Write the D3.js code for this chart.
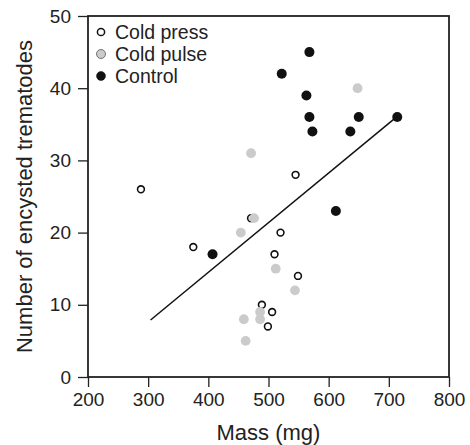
<!DOCTYPE html>
<html>
<head>
<meta charset="utf-8">
<script src="https://cdn.jsdelivr.net/npm/d3@7"></script>
<style>
  body { margin: 0; background: #fff; }
  svg text { font-family: "Liberation Sans", Arial, Helvetica, sans-serif; fill: #222; }
</style>
</head>
<body>
<script>
// Data: mass (mg) vs number of encysted trematodes
const pressMass  = [288, 375, 471, 545, 520, 510, 549, 489, 506, 499];
const pressCount = [26, 18, 22, 28, 20, 17, 14, 10, 9, 7];

const pulseMass  = [648, 471, 476, 454, 512, 544, 486, 459, 486, 462];
const pulseCount = [40, 31, 22, 20, 15, 12, 9, 8, 8, 5];

const controlMass  = [568, 522, 563, 568, 650, 573, 636, 714, 612, 407];
const controlCount = [45, 42, 39, 36, 36, 34, 34, 36, 23, 17];

// fitted line end points
const fitMass  = [304, 714];
const fitCount = [7.9, 36.1];

const xTicks = [200, 300, 400, 500, 600, 700, 800];
const yTicks = [0, 10, 20, 30, 40, 50];

const legendLabels = ["Cold press", "Cold pulse", "Control"];

const width = 470, height = 445;
const margin = {top: 16, right: 21, bottom: 68, left: 88};
const plotW = width - margin.left - margin.right;
const plotH = height - margin.top - margin.bottom;

const svg = d3.select("body").append("svg")
    .attr("width", width)
    .attr("height", height);

const g = svg.append("g")
    .attr("transform", `translate(${margin.left},${margin.top})`);

const x = d3.scaleLinear().domain([200, 800]).range([0, plotW]);
const y = d3.scaleLinear().domain([0, 50]).range([plotH, 0]);

// axes
const xAxis = g.append("g")
    .attr("transform", `translate(0,${plotH})`)
    .call(d3.axisBottom(x).tickValues(xTicks).tickSize(10).tickPadding(6).tickFormat(d3.format("d")));
const yAxis = g.append("g")
    .call(d3.axisLeft(y).tickValues(yTicks).tickSize(10).tickPadding(7).tickFormat(d3.format("d")));

[xAxis, yAxis].forEach(a => {
    a.select(".domain").remove();
    a.selectAll(".tick line").attr("stroke", "#222").attr("stroke-width", 1.3);
    a.selectAll(".tick text")
        .attr("font-size", 19)
        .attr("font-family", "Liberation Sans, Arial, sans-serif")
        .attr("fill", "#222");
});

// frame
g.append("rect")
    .attr("width", plotW)
    .attr("height", plotH)
    .attr("fill", "none")
    .attr("stroke", "#222")
    .attr("stroke-width", 1.8);

// fitted line
g.append("line")
    .attr("x1", x(fitMass[0])).attr("y1", y(fitCount[0]))
    .attr("x2", x(fitMass[1])).attr("y2", y(fitCount[1]))
    .attr("stroke", "#111")
    .attr("stroke-width", 1.5);

const pts = (m, c) => m.map((v, i) => ({mass: v, count: c[i]}));

// cold press (open)
g.append("g").selectAll("circle")
    .data(pts(pressMass, pressCount))
    .join("circle")
    .attr("cx", d => x(d.mass)).attr("cy", d => y(d.count))
    .attr("r", 3.4)
    .attr("fill", "#fff")
    .attr("stroke", "#111")
    .attr("stroke-width", 1.6);

// cold pulse (grey)
g.append("g").selectAll("circle")
    .data(pts(pulseMass, pulseCount))
    .join("circle")
    .attr("cx", d => x(d.mass)).attr("cy", d => y(d.count))
    .attr("r", 4.9)
    .attr("fill", "#cbcbcb");

// control (black)
g.append("g").selectAll("circle")
    .data(pts(controlMass, controlCount))
    .join("circle")
    .attr("cx", d => x(d.mass)).attr("cy", d => y(d.count))
    .attr("r", 5)
    .attr("fill", "#111");

// legend
const legend = g.append("g").attr("transform", "translate(13,16)");
const legendRows = legend.selectAll("g")
    .data(legendLabels)
    .join("g")
    .attr("transform", (d, i) => `translate(0,${i * 22})`);
legendRows.append("circle")
    .attr("r", (d, i) => i === 0 ? 3.6 : 4.5)
    .attr("fill", (d, i) => ["#fff", "#cbcbcb", "#111"][i])
    .attr("stroke", (d, i) => ["#111", "#555", "#111"][i])
    .attr("stroke-width", (d, i) => [1.5, 0.8, 0.5][i]);
legendRows.append("text")
    .attr("x", 14)
    .attr("y", 7)
    .attr("font-size", 19.5)
    .text(d => d);

// axis titles
svg.append("text")
    .attr("x", margin.left + plotW / 2)
    .attr("y", 440)
    .attr("text-anchor", "middle")
    .attr("font-size", 22)
    .text("Mass (mg)");

svg.append("text")
    .attr("transform", `translate(32,${margin.top + plotH / 2}) rotate(-90)`)
    .attr("text-anchor", "middle")
    .attr("font-size", 22)
    .text("Number of encysted trematodes");
</script>
</body>
</html>
